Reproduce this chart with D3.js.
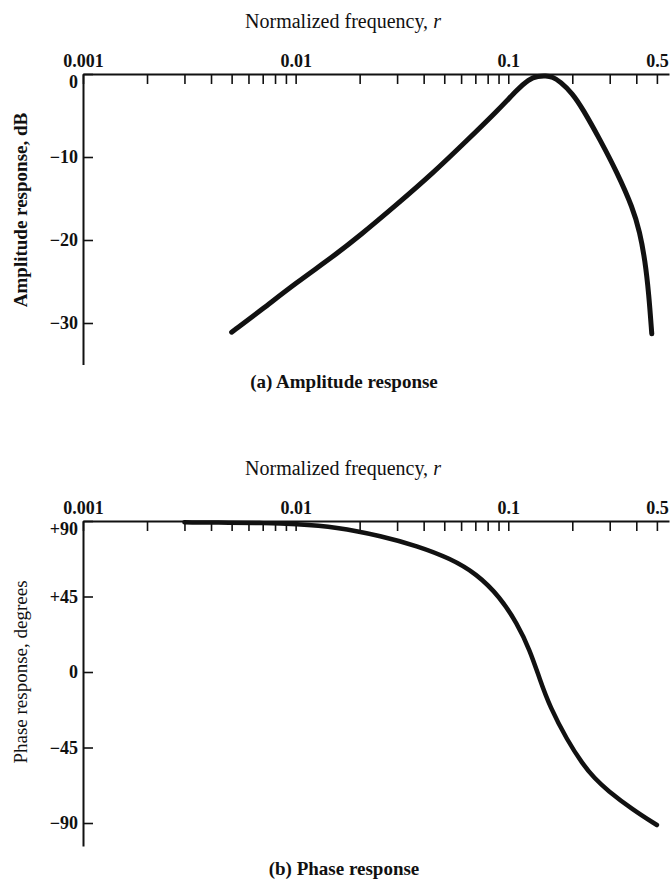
<!DOCTYPE html>
<html>
<head>
<meta charset="utf-8">
<script src="https://cdn.jsdelivr.net/npm/d3@7"></script>
<style>
  html, body { margin: 0; padding: 0; background: #fff; }
  svg { display: block; }
  text { font-family: "Liberation Serif", "Times New Roman", serif; fill: #111; }
</style>
</head>
<body>
<svg id="chart" width="672" height="884"></svg>
<script>
// ---- data ----
const xTickValues = [0.001, 0.002, 0.003, 0.004, 0.005, 0.006, 0.007, 0.008, 0.009,
                     0.01, 0.02, 0.03, 0.04, 0.05, 0.06, 0.07, 0.08, 0.09,
                     0.1, 0.2, 0.3, 0.4, 0.5];
const xTickLabels = {0.001: "0.001", 0.01: "0.01", 0.1: "0.1", 0.5: "0.5"};

const ampTicks = [0, -10, -20, -30];
const ampTickLabels = ["0", "\u221210", "\u221220", "\u221230"];
const ampR  = [0.005, 0.007, 0.01, 0.015, 0.02, 0.03, 0.044, 0.064, 0.09, 0.11, 0.125, 0.138, 0.15, 0.162, 0.175, 0.2, 0.224, 0.27, 0.324, 0.386, 0.415, 0.44, 0.458, 0.473];
const ampDb = [-31.1, -28.3, -25.2, -22.0, -19.5, -15.7, -12.0, -8.0, -4.3, -1.9, -0.6, -0.25, -0.2, -0.35, -0.9, -2.3, -4.2, -7.9, -11.8, -16.2, -19.0, -22.5, -26.5, -31.3];

const phTicks = [90, 45, 0, -45, -90];
const phTickLabels = ["+90", "+45", "0", "\u221245", "\u221290"];
const phR   = [0.003, 0.005, 0.007, 0.01, 0.0155, 0.0255, 0.0372, 0.0532, 0.0711, 0.0914, 0.1097, 0.1264, 0.141, 0.157, 0.189, 0.224, 0.255, 0.291, 0.386, 0.5];
const phDeg = [89.2, 89.0, 88.8, 88.2, 86.5, 81.0, 75.2, 67.8, 58.5, 44.7, 29.2, 13.1, -4.8, -20.8, -40.5, -55.0, -63.5, -70.3, -82.2, -91.2];

// ---- layout ----
const svg = d3.select("#chart");
const xLeft = 83, xRight = 669;
const x = d3.scaleLog().domain([0.001, 0.57]).range([xLeft, xRight]);

function drawPanel(opts) {
  const g = svg.append("g");
  const y = d3.scaleLinear().domain(opts.yDomain).range(opts.yRange);

  // x axis (top)
  const xa = g.append("g")
    .attr("transform", `translate(0,${opts.yRange[0]})`)
    .call(d3.axisTop(x).tickValues(xTickValues)
      .tickFormat(d => xTickLabels[d] || "")
      .tickSizeInner(-10).tickSizeOuter(0).tickPadding(7));
  xa.select(".domain").attr("stroke", "#111").attr("stroke-width", 2);
  xa.selectAll(".tick line").attr("stroke", "#111").attr("stroke-width", 1.6);
  xa.selectAll(".tick text").attr("font-size", 18).attr("font-weight", "bold").attr("fill", "#111");

  // y axis (left)
  const ya = g.append("g")
    .attr("transform", `translate(${xLeft},0)`)
    .call(d3.axisLeft(y).tickValues(opts.ticks)
      .tickFormat((d, i) => opts.tickLabels[i])
      .tickSizeInner(-10).tickSizeOuter(0).tickPadding(5));
  ya.select(".domain").attr("stroke", "#111").attr("stroke-width", 2);
  ya.selectAll(".tick line").attr("stroke", "#111").attr("stroke-width", 1.6);
  ya.selectAll(".tick text").attr("font-size", 18).attr("font-weight", "bold").attr("fill", "#111");
  ya.selectAll(".tick text").filter((d, i) => i === 0).attr("dy", "0.75em");

  // curve
  const line = d3.line()
    .x(d => x(d[0])).y(d => y(d[1]))
    .curve(d3.curveBasis);
  g.append("path")
    .datum(opts.rs.map((r, i) => [r, opts.vs[i]]))
    .attr("d", line)
    .attr("fill", "none")
    .attr("stroke", "#111")
    .attr("stroke-width", opts.lw)
    .attr("stroke-linecap", "round")
    .attr("stroke-linejoin", "round");

  // title
  const t = g.append("text")
    .attr("x", 343).attr("y", opts.titleY)
    .attr("text-anchor", "middle").attr("font-size", 20);
  t.append("tspan").text("Normalized frequency, ");
  t.append("tspan").attr("font-style", "italic").text("r");

  // y label
  g.append("text")
    .attr("transform", `translate(27,${opts.ylabY}) rotate(-90)`)
    .attr("text-anchor", "middle")
    .attr("font-size", 19)
    .attr("font-weight", opts.ylabBold ? "bold" : "normal")
    .text(opts.ylab);

  // caption
  g.append("text")
    .attr("x", 344).attr("y", opts.capY)
    .attr("text-anchor", "middle")
    .attr("font-size", 19).attr("font-weight", "bold")
    .text(opts.caption);
}

drawPanel({
  yDomain: [0, -35], yRange: [74, 364.5],
  ticks: ampTicks, tickLabels: ampTickLabels,
  rs: ampR, vs: ampDb, lw: 5,
  titleY: 28, ylab: "Amplitude response, dB", ylabY: 210, ylabBold: true,
  caption: "(a) Amplitude response", capY: 388
});

drawPanel({
  yDomain: [90, -103.7], yRange: [521, 846],
  ticks: phTicks, tickLabels: phTickLabels,
  rs: phR, vs: phDeg, lw: 4.5,
  titleY: 475, ylab: "Phase response, degrees", ylabY: 672, ylabBold: false,
  caption: "(b) Phase response", capY: 875
});
</script>
</body>
</html>
